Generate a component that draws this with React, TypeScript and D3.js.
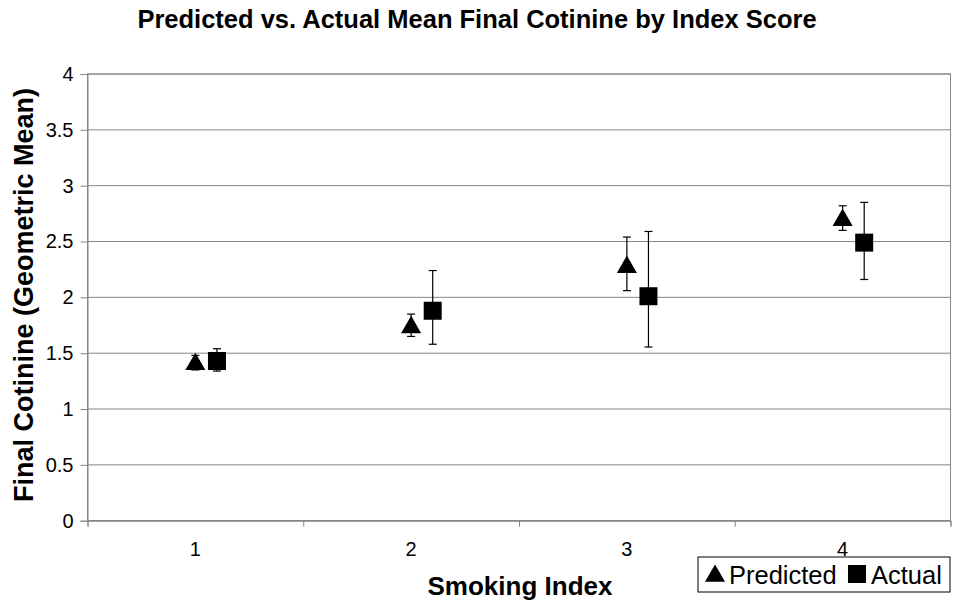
import React, { useEffect, useRef } from 'react'
import * as d3 from 'd3'

// smoking index categories
const categories = ['1', '2', '3', '4']

// predicted mean and its error range
const predicted = [1.41, 1.74, 2.28, 2.7]
const predictedLow = [1.35, 1.65, 2.06, 2.6]
const predictedHigh = [1.48, 1.85, 2.54, 2.82]

// actual mean and its error range
const actual = [1.43, 1.88, 2.01, 2.49]
const actualLow = [1.34, 1.58, 1.555, 2.16]
const actualHigh = [1.54, 2.24, 2.59, 2.85]

const yTicks = [0, 0.5, 1, 1.5, 2, 2.5, 3, 3.5, 4]

const width = 953
const height = 608
const font = '"Liberation Sans", Arial, sans-serif'

const App = () => {
    const svgRef = useRef<SVGSVGElement>(null)

    useEffect(() => {
        const svg = d3.select(svgRef.current)
        svg.selectAll('*').remove()

        const left = 87.5
        const right = 950.5
        const top = 74
        const bottom = 520.7

        const x = d3.scaleLinear().domain([0.5, categories.length + 0.5]).range([left, right])
        const y = d3.scaleLinear().domain([0, 4]).range([bottom, top])

        // plot frame
        svg.append('rect')
            .attr('x', left).attr('y', top)
            .attr('width', right - left).attr('height', bottom - top)
            .attr('fill', 'none').attr('stroke', '#868686')

        // gridlines
        svg.append('g')
            .selectAll('line')
            .data(yTicks)
            .join('line')
            .attr('x1', left).attr('x2', right)
            .attr('y1', (d) => y(d)).attr('y2', (d) => y(d))
            .attr('stroke', '#868686')

        // y axis
        const yAxis = svg.append('g')
            .attr('transform', `translate(${left},0)`)
            .call(d3.axisLeft(y).tickValues(yTicks).tickSize(7).tickPadding(7).tickFormat((d) => String(d)))
        yAxis.select('.domain').attr('stroke', '#868686')
        yAxis.selectAll('.tick line').attr('stroke', '#868686')
        yAxis.selectAll('.tick text')
            .attr('font-family', font).attr('font-size', 20).attr('fill', '#000')

        // x axis: ticks between categories, labels at category centers
        const xAxis = svg.append('g')
            .attr('transform', `translate(0,${bottom})`)
            .call(d3.axisBottom(x)
                .tickValues(d3.range(0.5, categories.length + 1, 1))
                .tickSize(6).tickFormat(() => ''))
        xAxis.select('.domain').attr('stroke', '#868686')
        xAxis.selectAll('.tick line').attr('stroke', '#868686')

        svg.append('g')
            .selectAll('text')
            .data(categories)
            .join('text')
            .attr('x', (d, i) => x(i + 1))
            .attr('y', 556)
            .attr('text-anchor', 'middle')
            .attr('font-family', font).attr('font-size', 20)
            .text((d) => d)

        // error bars
        const drawErrors = (vals: number[], lo: number[], hi: number[], off: number) => {
            const g = svg.append('g').attr('stroke', '#000').attr('stroke-width', 1.2)
            vals.forEach((v, i) => {
                const cx = x(i + 1 + off)
                g.append('line').attr('x1', cx).attr('x2', cx).attr('y1', y(lo[i])).attr('y2', y(hi[i]))
                g.append('line').attr('x1', cx - 4).attr('x2', cx + 4).attr('y1', y(lo[i])).attr('y2', y(lo[i]))
                g.append('line').attr('x1', cx - 4).attr('x2', cx + 4).attr('y1', y(hi[i])).attr('y2', y(hi[i]))
            })
        }
        drawErrors(predicted, predictedLow, predictedHigh, 0)
        drawErrors(actual, actualLow, actualHigh, 0.1)

        const tri = d3.symbol().type(d3.symbolTriangle).size(175)
        svg.append('g')
            .selectAll('path')
            .data(predicted)
            .join('path')
            .attr('d', tri)
            .attr('transform', (d, i) => `translate(${x(i + 1)},${y(d) + 1})`)
            .attr('fill', '#000')

        svg.append('g')
            .selectAll('rect')
            .data(actual)
            .join('rect')
            .attr('x', (d, i) => x(i + 1.1) - 9)
            .attr('y', (d) => y(d) - 9)
            .attr('width', 18).attr('height', 18)
            .attr('fill', '#000')

        // titles
        svg.append('text')
            .attr('x', 477).attr('y', 28)
            .attr('text-anchor', 'middle')
            .attr('font-family', font).attr('font-weight', 'bold').attr('font-size', 25.5)
            .text('Predicted vs. Actual Mean Final Cotinine by Index Score')

        svg.append('text')
            .attr('x', 520).attr('y', 595)
            .attr('text-anchor', 'middle')
            .attr('font-family', font).attr('font-weight', 'bold').attr('font-size', 26)
            .text('Smoking Index')

        svg.append('text')
            .attr('transform', 'translate(33,295) rotate(-90)')
            .attr('text-anchor', 'middle')
            .attr('font-family', font).attr('font-weight', 'bold').attr('font-size', 27)
            .text('Final Cotinine (Geometric Mean)')

        // legend
        const lg = svg.append('g')
        lg.append('rect')
            .attr('x', 698).attr('y', 557).attr('width', 252).attr('height', 35)
            .attr('fill', '#fff').attr('stroke', '#000')
        lg.append('path').attr('d', tri).attr('transform', 'translate(715,576)').attr('fill', '#000')
        lg.append('text').attr('x', 729).attr('y', 584)
            .attr('font-family', font).attr('font-size', 25.5).text('Predicted')
        lg.append('rect').attr('x', 848).attr('y', 565).attr('width', 18).attr('height', 18).attr('fill', '#000')
        lg.append('text').attr('x', 871).attr('y', 584)
            .attr('font-family', font).attr('font-size', 25.5).text('Actual')
    }, [])

    return (
        <svg ref={svgRef} width={width} height={height}
            style={{ position: 'absolute', left: 0, top: 0, background: '#fff' }} />
    )
}

export default App
